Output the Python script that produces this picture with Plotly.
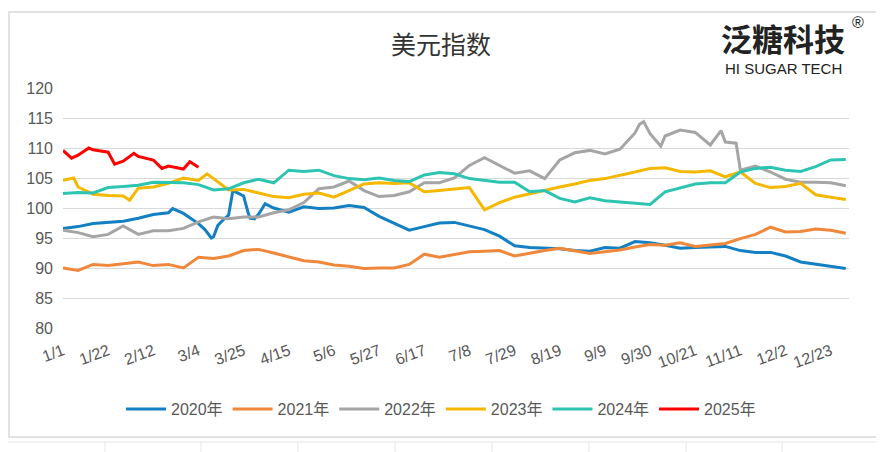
import plotly.graph_objects as go

# ---------------- data ----------------
week_days = list(range(0, 365, 7))  # sampled day-of-year positions (53)
tick_days = list(range(0, 358, 21))
tick_labels = ["1/1", "1/22", "2/12", "3/4", "3/25", "4/15", "5/6", "5/27", "6/17",
               "7/8", "7/29", "8/19", "9/9", "9/30", "10/21", "11/11", "12/2", "12/23"]

dxy_2020 = [96.6, 96.9, 97.4, 97.6, 97.8, 98.3, 98.9, 99.2, 99.1, 97.4, 95.2, 98.8, 102.0,
            99.0, 100.0, 99.3, 100.2, 99.9, 100.0, 100.4, 100.1, 98.6, 97.4, 96.3, 96.9, 97.5,
            97.6, 97.0, 96.4, 95.3, 93.7, 93.4, 93.3, 93.2, 92.9, 92.8, 93.4, 93.3, 94.4,
            94.2, 93.8, 93.3, 93.4, 93.5, 93.6, 92.9, 92.6, 92.6, 92.0, 91.0, 90.6, 90.3, 89.9]
extra_days_2020 = [51, 66, 69, 72, 75, 79, 82, 86, 87, 89, 94]
extra_vals_2020 = [99.9, 96.4, 95.0, 97.1, 98.2, 102.9, 102.4, 99.3, 98.3, 98.2, 100.7]

dxy_2021 = [90.0, 89.6, 90.6, 90.4, 90.7, 91.0, 90.4, 90.6, 90.0, 91.8, 91.6, 92.0, 92.9,
            93.1, 92.5, 91.8, 91.2, 91.0, 90.5, 90.3, 89.9, 90.0, 90.0, 90.6, 92.3, 91.8,
            92.2, 92.7, 92.8, 92.9, 92.0, 92.5, 92.9, 93.3, 92.8, 92.4, 92.7, 93.0, 93.5,
            93.9, 93.8, 94.2, 93.6, 93.8, 94.1, 94.9, 95.6, 96.8, 96.0, 96.1, 96.5, 96.3, 95.8]
extra_days_2021 = []
extra_vals_2021 = []

dxy_2022 = [96.3, 95.9, 95.2, 95.6, 97.0, 95.6, 96.2, 96.2, 96.6, 97.7, 98.5, 98.2, 98.5,
            98.5, 99.2, 99.7, 100.9, 103.2, 103.5, 104.5, 102.9, 101.9, 102.1, 102.7, 104.2, 104.2,
            105.0, 107.1, 108.4, 107.1, 105.8, 106.2, 104.9, 108.0, 109.2, 109.6, 109.0, 109.8, 112.5,
            112.4, 112.0, 113.0, 112.6, 110.5, 111.0, 106.3, 107.0, 106.0, 104.8, 104.3, 104.3, 104.2, 103.7]
extra_days_2022 = [268, 270, 278, 306, 313]
extra_vals_2022 = [113.9, 114.4, 110.3, 112.9, 110.8]

dxy_2023 = [104.6, 103.5, 102.3, 102.1, 102.0, 103.3, 103.5, 104.1, 105.0, 104.6, 104.9, 103.0, 103.1,
            102.5, 101.9, 101.7, 102.3, 102.5, 101.8, 102.9, 104.0, 104.2, 104.1, 104.2, 102.7, 102.9,
            103.1, 103.4, 99.7, 100.9, 101.8, 102.4, 102.9, 103.5, 104.0, 104.6, 104.9, 105.4, 106.0,
            106.6, 106.7, 106.1, 106.0, 106.2, 105.2, 106.0, 104.1, 103.4, 103.6, 104.1, 102.2, 101.8, 101.4]
extra_days_2023 = [5, 31, 67]
extra_vals_2023 = [105.0, 101.3, 105.7]

dxy_2024 = [102.4, 102.6, 102.5, 103.4, 103.6, 103.8, 104.3, 104.2, 104.2, 103.9, 103.0, 103.2, 104.2,
            104.8, 104.2, 106.3, 106.1, 106.3, 105.4, 104.9, 104.7, 105.0, 104.6, 104.4, 105.5, 105.9,
            105.7, 104.9, 104.6, 104.3, 104.3, 102.7, 102.9, 101.6, 101.0, 101.7, 101.2, 101.0, 100.7,
            100.6, 102.7, 103.3, 104.0, 104.2, 104.2, 106.0, 106.6, 106.8, 106.3, 106.1, 106.9, 108.0, 108.1]
extra_days_2024 = []
extra_vals_2024 = []

dxy_2025 = [109.6, 108.8, 109.7, 109.3, 107.8, 108.6, 108.0, 107.0, 106.5, 106.8]
extra_days_2025 = [4, 12, 24, 33, 46, 59]
extra_vals_2025 = [108.3, 110.0, 107.3, 109.1, 106.6, 107.7]

series_names = ["2020年", "2021年", "2022年", "2023年", "2024年", "2025年"]
series_vals = [dxy_2020, dxy_2021, dxy_2022, dxy_2023, dxy_2024, dxy_2025]
series_extra_days = [extra_days_2020, extra_days_2021, extra_days_2022,
                     extra_days_2023, extra_days_2024, extra_days_2025]
series_extra_vals = [extra_vals_2020, extra_vals_2021, extra_vals_2022,
                     extra_vals_2023, extra_vals_2024, extra_vals_2025]
colors = ["#1380C3", "#F0883C", "#A5A5A5", "#F5B800", "#2EC4B2", "#FF0000"]

# ---------------- figure ----------------
fig = go.Figure()
for name, vals, ed, ev, col in zip(series_names, series_vals, series_extra_days,
                                   series_extra_vals, colors):
    pts = list(zip(week_days[:len(vals)], vals)) + list(zip(ed, ev))
    pts.sort()
    fig.add_trace(go.Scatter(x=[p[0] for p in pts], y=[p[1] for p in pts], mode="lines",
                             name=name, line=dict(color=col, width=3)))

OFF = 8  # the page body adds an 8px margin; work in reference pixels minus this offset
W, H = 884 - OFF, 452 - OFF
ml, mr, mt, mb = 63 - OFF, 35, 88 - OFF, 124
pw, ph = W - ml - mr, H - mt - mb


def px_x(p):
    return (p - OFF - ml) / pw


def px_y(p):
    return (H - mb - (p - OFF)) / ph


text_font = "Liberation Sans, Arial, Noto Sans CJK SC, sans-serif"

shapes = [
    dict(type="rect", xref="paper", yref="paper", x0=px_x(9), x1=px_x(877),
         y0=px_y(437), y1=px_y(12), line=dict(color="#D9D9D9", width=1.5),
         fillcolor="rgba(0,0,0,0)", layer="below"),
    dict(type="line", xref="paper", yref="paper", x0=px_x(8), x1=px_x(884),
         y0=px_y(442), y1=px_y(442), line=dict(color="#E6E6E6", width=1), layer="below"),
]
for cx in [105, 201, 298, 395, 492, 589, 686, 782]:
    shapes.append(dict(type="line", xref="paper", yref="paper", x0=px_x(cx), x1=px_x(cx),
                       y0=px_y(452), y1=px_y(442), line=dict(color="#E6E6E6", width=1),
                       layer="below"))

fig.update_layout(
    width=W, height=H,
    margin=dict(l=ml, r=mr, t=mt, b=mb),
    paper_bgcolor="white", plot_bgcolor="white",
    showlegend=True,
    legend=dict(orientation="h", xref="container", x=(441 - OFF) / W, xanchor="center",
                yref="container", y=1 - (409 - OFF) / H, yanchor="middle",
                font=dict(family=text_font, size=16, color="#595959"),
                itemwidth=40, tracegroupgap=0),
    xaxis=dict(range=[0, 365.5], tickmode="array", tickvals=tick_days, ticktext=tick_labels,
               tickangle=-20, showgrid=False, zeroline=False, showline=False,
               ticks="", ticklabelstandoff=10,
               tickfont=dict(family=text_font, size=16, color="#595959")),
    yaxis=dict(range=[80, 120], dtick=5, tick0=80, showgrid=True, gridcolor="#D9D9D9",
               gridwidth=1.3, zeroline=False, showline=False, ticks="",
               ticklabelstandoff=9,
               tickfont=dict(family=text_font, size=16, color="#595959")),
    annotations=[
        dict(text="美元指数", xref="paper", yref="paper", x=px_x(441), y=px_y(43),
             xanchor="center", yanchor="middle", showarrow=False,
             font=dict(family="Noto Sans CJK SC", size=25, color="#333333")),
        dict(text="<b>泛糖科技</b>", xref="paper", yref="paper", x=px_x(783), y=px_y(37),
             xanchor="center", yanchor="middle", showarrow=False,
             font=dict(family="Noto Sans CJK SC", size=31, color="#222222")),
        dict(text="HI SUGAR TECH", xref="paper", yref="paper", x=px_x(783), y=px_y(68),
             xanchor="center", yanchor="middle", showarrow=False,
             font=dict(family="Liberation Sans, Arial", size=15, color="#222222")),
        dict(text="®", xref="paper", yref="paper", x=px_x(858), y=px_y(22),
             xanchor="center", yanchor="middle", showarrow=False,
             font=dict(family="Liberation Sans, Arial", size=16, color="#222222")),
    ],
    shapes=shapes,
)

fig.write_html("out.html")
